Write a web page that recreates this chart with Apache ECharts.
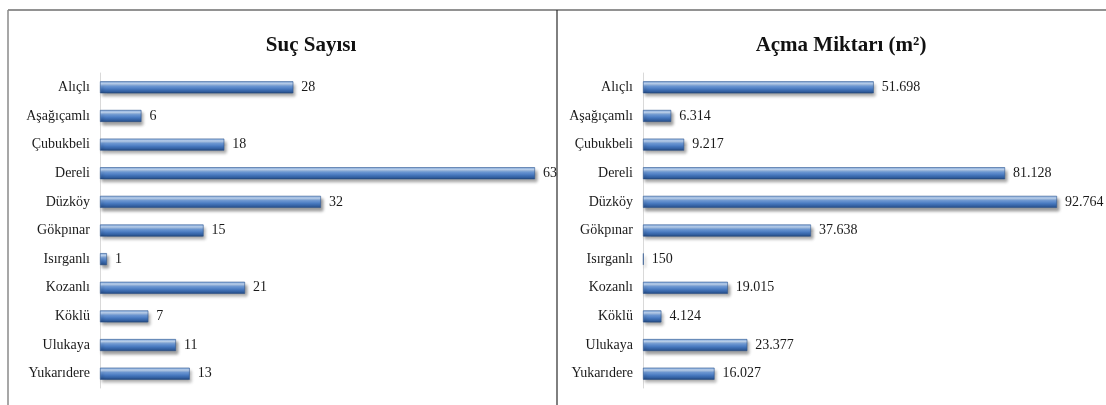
<!DOCTYPE html>
<html>
<head>
<meta charset="utf-8">
<script src="https://cdn.jsdelivr.net/npm/echarts@6/dist/echarts.min.js"></script>
<style>
  html, body { margin: 0; padding: 0; background: #ffffff; }
  #chart { width: 1106px; height: 405px; }
</style>
</head>
<body>
<div id="chart"></div>
<script>
// Villages (rows, top to bottom)
const villages = ['Alıçlı', 'Aşağıçamlı', 'Çubukbeli', 'Dereli', 'Düzköy', 'Gökpınar',
  'Isırganlı', 'Kozanlı', 'Köklü', 'Ulukaya', 'Yukarıdere'];
// Number of offences per village
const crimeCounts = [28, 6, 18, 63, 32, 15, 1, 21, 7, 11, 13];
// Cleared area per village, m²
const clearedArea = [51698, 6314, 9217, 81128, 92764, 37638, 150, 19015, 4124, 23377, 16027];

const leftTitle = 'Suç Sayısı';
const rightTitle = 'Açma Miktarı (m²)';

// Thousands grouped with dots, e.g. 51698 -> 51.698
function trNumber(v) {
  return String(Math.round(v)).replace(/\B(?=(\d{3})+(?!\d))/g, '.');
}

const serif = '"Liberation Serif", "Times New Roman", serif';

// Cylinder-like shading of the bars
const barFill = new echarts.graphic.LinearGradient(0, 0, 0, 1, [
  { offset: 0.00, color: '#7ea6dc' },
  { offset: 0.20, color: '#c2d8f4' },
  { offset: 0.40, color: '#6f9bd8' },
  { offset: 0.65, color: '#4677bd' },
  { offset: 0.88, color: '#2f5b9b' },
  { offset: 1.00, color: '#1c3a6a' }
]);

function barSeries(idx, values) {
  return {
    type: 'bar',
    xAxisIndex: idx,
    yAxisIndex: idx,
    data: values,
    barWidth: 12,
    itemStyle: {
      color: barFill,
      borderColor: '#2f5790',
      borderWidth: 0.6,
      shadowColor: 'rgba(0,0,0,0.38)',
      shadowBlur: 3,
      shadowOffsetX: 2,
      shadowOffsetY: 3
    },
    label: {
      show: true,
      position: 'right',
      distance: 8,
      fontFamily: serif,
      fontSize: 14,
      color: '#1a1a1a',
      formatter: p => trNumber(p.value)
    },
    silent: true
  };
}

function categoryAxis(idx) {
  return {
    type: 'category',
    gridIndex: idx,
    data: villages,
    inverse: true,
    axisLine: { show: true, lineStyle: { color: '#d9d9d9', width: 1 } },
    axisTick: { show: false },
    axisLabel: { fontFamily: serif, fontSize: 14, color: '#1a1a1a', margin: 10 }
  };
}

function valueAxis(idx, max) {
  return {
    type: 'value',
    gridIndex: idx,
    min: 0,
    max: max,
    show: false,
    splitLine: { show: false }
  };
}

const chart = echarts.init(document.getElementById('chart'), null, { renderer: 'canvas' });

chart.setOption({
  animation: false,
  backgroundColor: '#ffffff',
  title: [
    { text: leftTitle, left: 306, top: 30, textAlign: 'center',
      textStyle: { fontFamily: serif, fontSize: 21, fontWeight: 'bold', color: '#111' } },
    { text: rightTitle, left: 836, top: 30, textAlign: 'center',
      textStyle: { fontFamily: serif, fontSize: 21, fontWeight: 'bold', color: '#111' } }
  ],
  grid: [
    { left: 100, top: 73, width: 435, bottom: 17 },
    { left: 643, top: 73, width: 414, bottom: 17 }
  ],
  xAxis: [valueAxis(0, 63), valueAxis(1, 'dataMax')],
  yAxis: [categoryAxis(0), categoryAxis(1)],
  series: [barSeries(0, crimeCounts), barSeries(1, clearedArea)],
  graphic: [
    // panel frame: top rule, outer left edge and the divider between panels
    { type: 'line', shape: { x1: 8, y1: 10, x2: 1106, y2: 10 },
      style: { stroke: '#6e6e6e', lineWidth: 1.5 } },
    { type: 'line', shape: { x1: 8, y1: 10, x2: 8, y2: 405 },
      style: { stroke: '#8a8a8a', lineWidth: 1.5 } },
    { type: 'line', shape: { x1: 557, y1: 10, x2: 557, y2: 405 },
      style: { stroke: '#2a2a2a', lineWidth: 1.2 } }
  ]
});
</script>
</body>
</html>
